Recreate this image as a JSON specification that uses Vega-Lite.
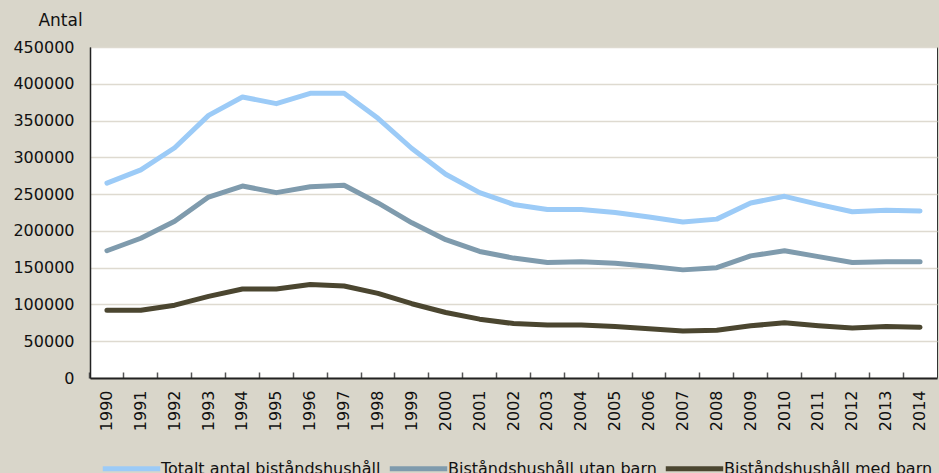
{
  "$schema": "https://vega.github.io/schema/vega-lite/v6.json",
  "width": 847,
  "height": 331,
  "autosize": {"type": "none"},
  "padding": {"top": 47, "left": 90, "right": 2, "bottom": 95},
  "background": "#d9d6ca",
  "config": {
    "view": {"fill": "white", "stroke": "#333333", "strokeWidth": 1},
    "font": "DejaVu Sans"
  },
  "datasets": {
    "d": [
      {"year": "1990", "s": "Totalt antal biståndshushåll", "v": 265000},
      {"year": "1991", "s": "Totalt antal biståndshushåll", "v": 283000},
      {"year": "1992", "s": "Totalt antal biståndshushåll", "v": 313000},
      {"year": "1993", "s": "Totalt antal biståndshushåll", "v": 357000},
      {"year": "1994", "s": "Totalt antal biståndshushåll", "v": 382000},
      {"year": "1995", "s": "Totalt antal biståndshushåll", "v": 373000},
      {"year": "1996", "s": "Totalt antal biståndshushåll", "v": 387000},
      {"year": "1997", "s": "Totalt antal biståndshushåll", "v": 387000},
      {"year": "1998", "s": "Totalt antal biståndshushåll", "v": 353000},
      {"year": "1999", "s": "Totalt antal biståndshushåll", "v": 312000},
      {"year": "2000", "s": "Totalt antal biståndshushåll", "v": 277000},
      {"year": "2001", "s": "Totalt antal biståndshushåll", "v": 252000},
      {"year": "2002", "s": "Totalt antal biståndshushåll", "v": 236000},
      {"year": "2003", "s": "Totalt antal biståndshushåll", "v": 229000},
      {"year": "2004", "s": "Totalt antal biståndshushåll", "v": 229000},
      {"year": "2005", "s": "Totalt antal biståndshushåll", "v": 225000},
      {"year": "2006", "s": "Totalt antal biståndshushåll", "v": 219000},
      {"year": "2007", "s": "Totalt antal biståndshushåll", "v": 212000},
      {"year": "2008", "s": "Totalt antal biståndshushåll", "v": 216000},
      {"year": "2009", "s": "Totalt antal biståndshushåll", "v": 238000},
      {"year": "2010", "s": "Totalt antal biståndshushåll", "v": 247000},
      {"year": "2011", "s": "Totalt antal biståndshushåll", "v": 236000},
      {"year": "2012", "s": "Totalt antal biståndshushåll", "v": 226000},
      {"year": "2013", "s": "Totalt antal biståndshushåll", "v": 228000},
      {"year": "2014", "s": "Totalt antal biståndshushåll", "v": 227000},
      {"year": "1990", "s": "Biståndshushåll utan barn", "v": 173000},
      {"year": "1991", "s": "Biståndshushåll utan barn", "v": 190000},
      {"year": "1992", "s": "Biståndshushåll utan barn", "v": 213000},
      {"year": "1993", "s": "Biståndshushåll utan barn", "v": 246000},
      {"year": "1994", "s": "Biståndshushåll utan barn", "v": 261000},
      {"year": "1995", "s": "Biståndshushåll utan barn", "v": 252000},
      {"year": "1996", "s": "Biståndshushåll utan barn", "v": 260000},
      {"year": "1997", "s": "Biståndshushåll utan barn", "v": 262000},
      {"year": "1998", "s": "Biståndshushåll utan barn", "v": 238000},
      {"year": "1999", "s": "Biståndshushåll utan barn", "v": 211000},
      {"year": "2000", "s": "Biståndshushåll utan barn", "v": 188000},
      {"year": "2001", "s": "Biståndshushåll utan barn", "v": 172000},
      {"year": "2002", "s": "Biståndshushåll utan barn", "v": 163000},
      {"year": "2003", "s": "Biståndshushåll utan barn", "v": 157000},
      {"year": "2004", "s": "Biståndshushåll utan barn", "v": 158000},
      {"year": "2005", "s": "Biståndshushåll utan barn", "v": 156000},
      {"year": "2006", "s": "Biståndshushåll utan barn", "v": 152000},
      {"year": "2007", "s": "Biståndshushåll utan barn", "v": 147000},
      {"year": "2008", "s": "Biståndshushåll utan barn", "v": 150000},
      {"year": "2009", "s": "Biståndshushåll utan barn", "v": 166000},
      {"year": "2010", "s": "Biståndshushåll utan barn", "v": 173000},
      {"year": "2011", "s": "Biståndshushåll utan barn", "v": 165000},
      {"year": "2012", "s": "Biståndshushåll utan barn", "v": 157000},
      {"year": "2013", "s": "Biståndshushåll utan barn", "v": 158000},
      {"year": "2014", "s": "Biståndshushåll utan barn", "v": 158000},
      {"year": "1990", "s": "Biståndshushåll med barn", "v": 92000},
      {"year": "1991", "s": "Biståndshushåll med barn", "v": 92000},
      {"year": "1992", "s": "Biståndshushåll med barn", "v": 99000},
      {"year": "1993", "s": "Biståndshushåll med barn", "v": 111000},
      {"year": "1994", "s": "Biståndshushåll med barn", "v": 121000},
      {"year": "1995", "s": "Biståndshushåll med barn", "v": 121000},
      {"year": "1996", "s": "Biståndshushåll med barn", "v": 127000},
      {"year": "1997", "s": "Biståndshushåll med barn", "v": 125000},
      {"year": "1998", "s": "Biståndshushåll med barn", "v": 115000},
      {"year": "1999", "s": "Biståndshushåll med barn", "v": 101000},
      {"year": "2000", "s": "Biståndshushåll med barn", "v": 89000},
      {"year": "2001", "s": "Biståndshushåll med barn", "v": 80000},
      {"year": "2002", "s": "Biståndshushåll med barn", "v": 74000},
      {"year": "2003", "s": "Biståndshushåll med barn", "v": 72000},
      {"year": "2004", "s": "Biståndshushåll med barn", "v": 72000},
      {"year": "2005", "s": "Biståndshushåll med barn", "v": 70000},
      {"year": "2006", "s": "Biståndshushåll med barn", "v": 67000},
      {"year": "2007", "s": "Biståndshushåll med barn", "v": 64000},
      {"year": "2008", "s": "Biståndshushåll med barn", "v": 65000},
      {"year": "2009", "s": "Biståndshushåll med barn", "v": 71000},
      {"year": "2010", "s": "Biståndshushåll med barn", "v": 75000},
      {"year": "2011", "s": "Biståndshushåll med barn", "v": 71000},
      {"year": "2012", "s": "Biståndshushåll med barn", "v": 68000},
      {"year": "2013", "s": "Biståndshushåll med barn", "v": 70000},
      {"year": "2014", "s": "Biståndshushåll med barn", "v": 69000}
    ]
  },
  "data": {"name": "d"},
  "mark": {"type": "line", "strokeWidth": 5, "strokeCap": "round", "strokeJoin": "round"},
  "encoding": {
    "x": {
      "field": "year",
      "type": "ordinal",
      "scale": {"type": "band", "paddingInner": 0, "paddingOuter": 0},
      "axis": {
        "title": null,
        "labelAngle": -90,
        "labelAlign": "right",
        "labelBaseline": "middle",
        "labelFontSize": 16,
        "labelColor": "#111111",
        "labelPadding": 18,
        "bandPosition": 0,
        "domainColor": "#222222",
        "domainWidth": 2,
        "tickColor": "#555555",
        "tickSize": -6,
        "tickWidth": 1.5,
        "grid": false
      }
    },
    "y": {
      "field": "v",
      "type": "quantitative",
      "scale": {"domain": [0, 450000], "nice": false},
      "axis": {
        "title": "Antal",
        "titleAngle": 0,
        "titleAlign": "center",
        "titleBaseline": "middle",
        "titleX": -30,
        "titleY": -27,
        "titleFontSize": 17,
        "titleFontWeight": "normal",
        "titleColor": "#111111",
        "values": [0, 50000, 100000, 150000, 200000, 250000, 300000, 350000, 400000, 450000],
        "format": "d",
        "labelFontSize": 16,
        "labelColor": "#111111",
        "labelPadding": 16,
        "ticks": false,
        "domainColor": "#222222",
        "domainWidth": 1.5,
        "gridColor": "#dedad0",
        "gridWidth": 1.5
      }
    },
    "color": {
      "field": "s",
      "type": "nominal",
      "scale": {
        "domain": ["Totalt antal biståndshushåll", "Biståndshushåll utan barn", "Biståndshushåll med barn"],
        "range": ["#9ccbf7", "#7f9bad", "#4b4630"]
      },
      "legend": {
        "title": null,
        "orient": "none",
        "legendX": 10,
        "legendY": 390,
        "direction": "horizontal",
        "symbolType": "stroke",
        "symbolSize": 3300,
        "symbolStrokeWidth": 5,
        "labelFontSize": 16,
        "labelColor": "#111111",
        "labelOffset": -2,
        "columnPadding": -2,
        "labelLimit": 300
      }
    }
  }
}
